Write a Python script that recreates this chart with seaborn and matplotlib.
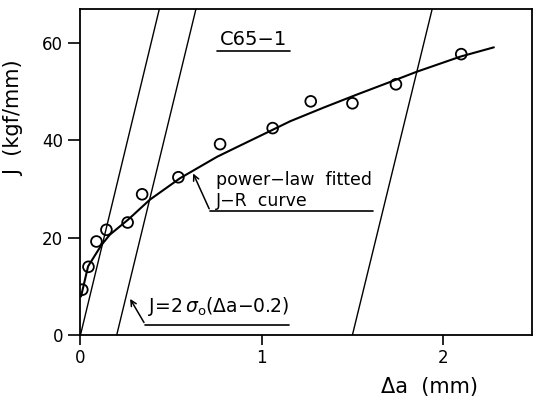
import numpy as np
import pandas as pd
import seaborn as sns
import matplotlib
matplotlib.use("Agg")
import matplotlib.pyplot as plt

# --- data ---
# measured J-R points
da_points = [0.01, 0.044, 0.088, 0.143, 0.26, 0.34, 0.54, 0.77, 1.06, 1.27, 1.50, 1.74, 2.10]
j_points = [9.3, 14.0, 19.2, 21.6, 23.1, 28.9, 32.4, 39.2, 42.5, 48.0, 47.6, 51.5, 57.7]

# power-law fitted curve (traced)
da_curve = [0.003, 0.042, 0.116, 0.162, 0.263, 0.383, 0.549, 0.753, 0.863,
            1.046, 1.156, 1.34, 1.525, 1.709, 1.856, 2.096, 2.28]
j_curve = [7.9, 14.1, 18.5, 20.6, 23.7, 27.8, 32.2, 36.6, 38.6,
           41.9, 43.9, 46.7, 49.4, 52.0, 54.1, 57.2, 59.1]

# blunting / offset lines: start and end of each
line_da_start = [0.0, 0.2, 1.5]
line_da_end = [0.435, 0.637, 1.94]
line_j = [0.0, 67.0]

x_ticks = [0, 1, 2]
y_ticks = [0, 20, 40, 60]

sns.set_style("ticks")
plt.rcParams['font.family'] = ['DejaVu Sans']
plt.rcParams['text.color'] = 'black'
plt.rcParams['axes.labelcolor'] = 'black'

fig = plt.figure(figsize=(5.33, 4.04), dpi=100)
ax = fig.add_axes([0.151, 0.171, 0.847, 0.807])

for x0, x1 in zip(line_da_start, line_da_end):
    sns.lineplot(x=[x0, x1], y=line_j, color='black', linewidth=1.0, ax=ax,
                 estimator=None, sort=False)

sns.lineplot(x=da_curve, y=j_curve, color='black', linewidth=1.5, ax=ax,
             estimator=None, sort=False)
sns.scatterplot(x=da_points, y=j_points, marker='o', s=60, facecolor='none',
                edgecolor='black', linewidth=1.3, ax=ax, zorder=5)

ax.set_xlim(0, 2.49)
ax.set_ylim(0, 67)
ax.set_xticks(x_ticks)
ax.set_yticks(y_ticks)
ax.tick_params(axis='both', direction='out', labelsize=12, width=1.2, colors='black')
ax.tick_params(axis='y', length=9)
ax.tick_params(axis='x', length=7)
for s in ax.spines.values():
    s.set_visible(True)
    s.set_linewidth(1.3)
    s.set_color('black')

ax.set_xlabel('Δa  (mm)', fontsize=15)
ax.xaxis.set_label_coords(0.773, -0.13)
ax.set_ylabel('J  (kgf/mm)', fontsize=15)
ax.yaxis.set_label_coords(-0.125, 0.665)

# sample label
ax.text(0.956, 60.8, 'C65−1', fontsize=14, ha='center', va='center')
ax.plot([0.755, 1.157], [58.4, 58.4], color='black', linewidth=1.2)

# fitted curve annotation
ax.annotate('', xy=(0.615, 33.7), xytext=(0.716, 25.4),
            arrowprops=dict(arrowstyle='->', color='black', lw=1.1))
ax.plot([0.716, 1.616], [25.4, 25.4], color='black', linewidth=1.2)
ax.text(0.745, 31.8, 'power−law  fitted', fontsize=12.5, ha='left', va='center')
ax.text(0.745, 27.5, 'J−R  curve', fontsize=12.5, ha='left', va='center')

# offset line annotation
ax.annotate('', xy=(0.266, 7.9), xytext=(0.358, 2.06),
            arrowprops=dict(arrowstyle='->', color='black', lw=1.1))
ax.plot([0.358, 1.148], [2.06, 2.06], color='black', linewidth=1.2)
ax.text(0.37, 5.9, r'J=2$\,\sigma_\mathregular{o}$(Δa−0.2)', fontsize=13.5,
        ha='left', va='center')

fig.savefig('out.png', dpi=100)
